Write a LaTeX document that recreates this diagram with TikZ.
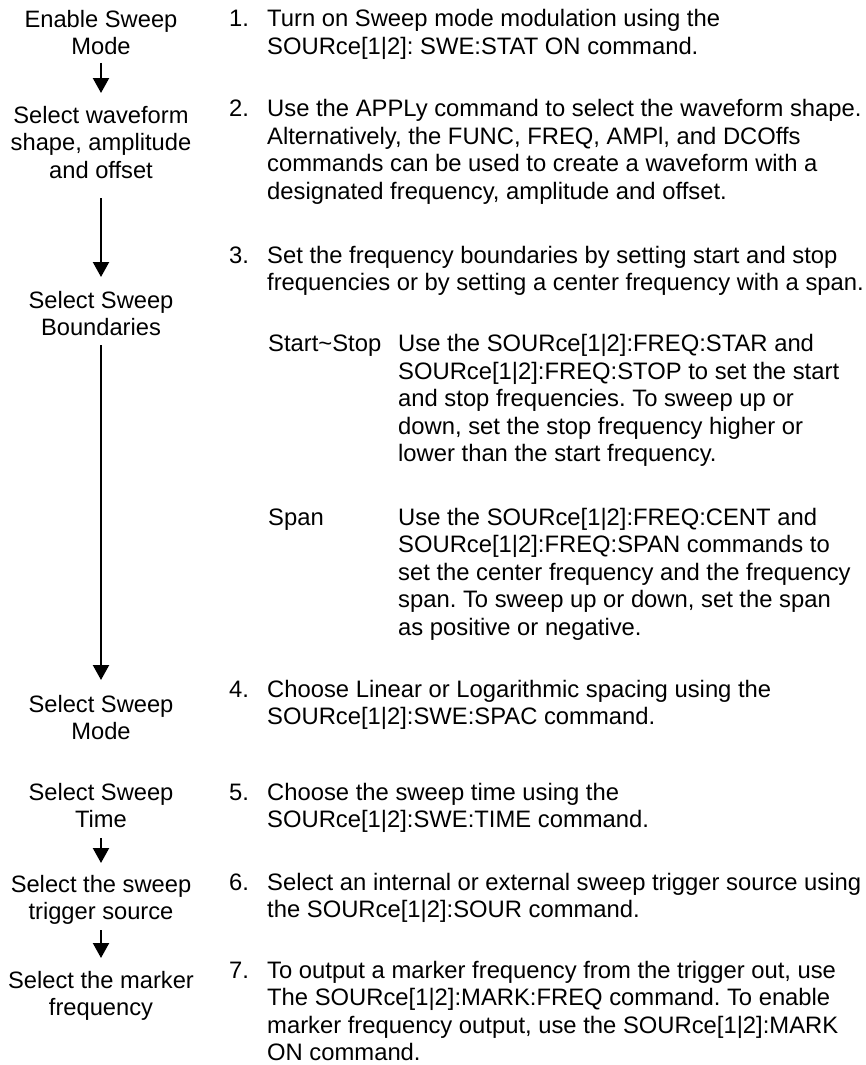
\documentclass[tikz,border=0pt]{standalone}
\usepackage{fontspec}
\setmainfont{Liberation Sans}
\usetikzlibrary{arrows.meta}
\frenchspacing
\tikzset{
  lbl/.style={anchor=base, align=center, inner sep=0pt, font=\fontsize{23.7}{27.5}\selectfont\frenchspacing},
  txt/.style={anchor=base west, align=left, inner sep=0pt, font=\fontsize{23.8}{27.5}\selectfont\frenchspacing},
  arr/.style={line width=2.2pt, -{Triangle[width=16pt,length=15pt]}},
}
\begin{document}
\begin{tikzpicture}[x=1pt,y=-1pt]
\useasboundingbox (0,0) rectangle (866,1065);
% left column (node base = baseline of last line)
\node[lbl] (enable) at (101,55) {Enable Sweep\\Mode};
\node[lbl] (wave) at (101,178) {Select waveform\\shape, amplitude\\and offset};
\node[lbl] (bound) at (101,335.5) {Select Sweep\\Boundaries};
\node[lbl] (smode) at (101,739.5) {Select Sweep\\Mode};
\node[lbl] (stime) at (101,827.5) {Select Sweep\\Time};
\node[lbl] (trig) at (101,919.5) {Select the sweep\\trigger source};
\node[lbl] (mark) at (101,1015.5) {Select the marker\\frequency};
\draw[arr, shorten <=8pt, shorten >=85pt] (enable.base) -- (wave.base);
\draw[arr, shorten <=20pt, shorten >=58.5pt] (wave.base) -- (bound.base);
\draw[arr, shorten <=9.5pt, shorten >=59.5pt] (bound.base) -- (smode.base);
\draw[arr, shorten <=10.5pt, shorten >=56.5pt] (stime.base) -- (trig.base);
\draw[arr, shorten <=10.5pt, shorten >=57.5pt] (trig.base) -- (mark.base);
% right column
\node[txt] (n1) at (229,26.7) {1.};
\node[txt] (t1) at (267,54.2) {Turn on Sweep mode modulation using the\\SOURce[1|2]: SWE:STAT ON command.};
\node[txt] (n2) at (229,116.7) {2.};
\node[txt] (t2) at (267,199.2) {Use the APPLy command to select the waveform shape.\\Alternatively, the FUNC, FREQ, AMPl, and DCOffs\\commands can be used to create a waveform with a\\designated frequency, amplitude and offset.};
\node[txt] (n3) at (229,263.3) {3.};
\node[txt] (t3) at (267,290.8) {Set the frequency boundaries by setting start and stop\\frequencies or by setting a center frequency with a span.};
\node[txt] (ss) at (268,351.7) {Start\textasciitilde Stop};
\node[txt] (ssd) at (398,461.7) {Use the SOURce[1|2]:FREQ:STAR and\\SOURce[1|2]:FREQ:STOP to set the start\\and stop frequencies. To sweep up or\\down, set the stop frequency higher or\\lower than the start frequency.};
\node[txt] (sp) at (268,525) {Span};
\node[txt] (spd) at (398,635) {Use the SOURce[1|2]:FREQ:CENT and\\SOURce[1|2]:FREQ:SPAN commands to\\set the center frequency and the frequency\\span. To sweep up or down, set the span\\as positive or negative.};
\node[txt] (n4) at (229,697) {4.};
\node[txt] (t4) at (267,724.5) {Choose Linear or Logarithmic spacing using the\\SOURce[1|2]:SWE:SPAC command.};
\node[txt] (n5) at (229,800) {5.};
\node[txt] (t5) at (267,827.5) {Choose the sweep time using the\\SOURce[1|2]:SWE:TIME command.};
\node[txt] (n6) at (229,890) {6.};
\node[txt] (t6) at (267,917.5) {Select an internal or external sweep trigger source using\\the SOURce[1|2]:SOUR command.};
\node[txt] (n7) at (229,978) {7.};
\node[txt] (t7) at (267,1060.5) {To output a marker frequency from the trigger out, use\\The SOURce[1|2]:MARK:FREQ command. To enable\\marker frequency output, use the SOURce[1|2]:MARK\\ON command.};
\end{tikzpicture}
\end{document}
